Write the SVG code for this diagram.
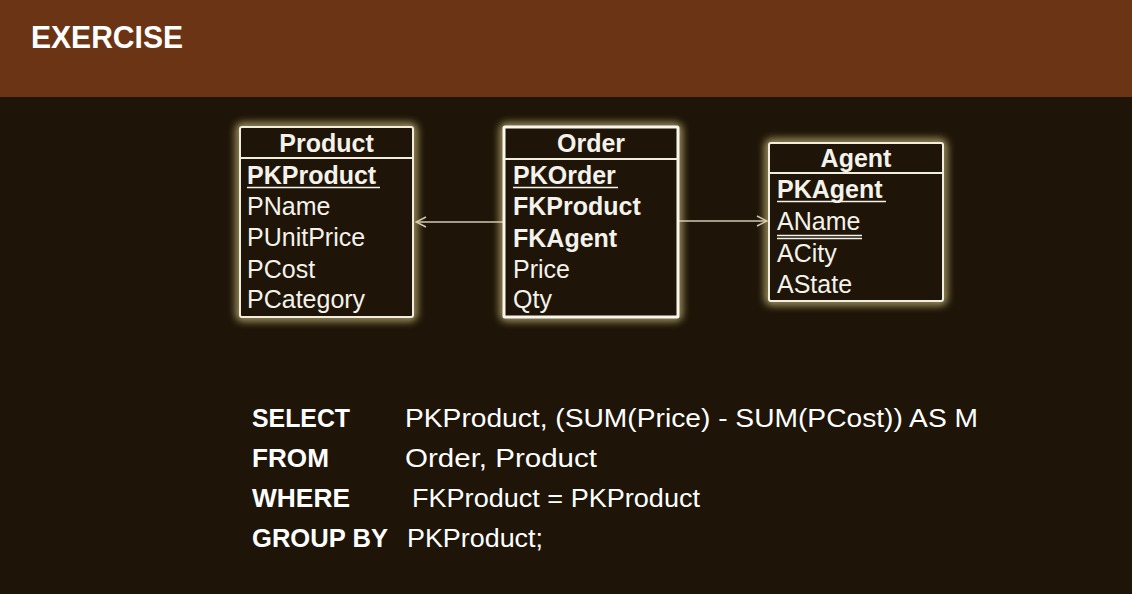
<svg xmlns="http://www.w3.org/2000/svg" width="1132" height="594" viewBox="0 0 1132 594">
<defs>
<filter id="blur" x="-20%" y="-20%" width="140%" height="140%">
<feGaussianBlur stdDeviation="4"/>
</filter>
<marker id="chev" viewBox="0 0 12 12" refX="11" refY="6" markerWidth="12" markerHeight="12" markerUnits="userSpaceOnUse" orient="auto">
<path d="M1,1 L11,6 L1,11" fill="none" stroke="#cfc8b4" stroke-width="1.5"/>
</marker>
<style>
.halo{fill:none;stroke:#e6d890;stroke-width:7;opacity:0.85;filter:url(#blur)}
.box{fill:#1e1407;stroke:#f2eedf;stroke-width:2}
.box2{fill:#1e1407;stroke:#f8f6ee;stroke-width:3}
.div{stroke:#f2eedf;stroke-width:2}
.t{font-family:"Liberation Sans",Arial,Helvetica,sans-serif;font-size:25px;fill:#f4f2ea}
.b{font-weight:bold}
.ttl{font-weight:bold;text-anchor:middle}
.ul{stroke:#f4f2ea;stroke-width:1.6}
.conn{stroke:#cfc8b4;stroke-width:1.5;fill:none;marker-end:url(#chev)}
.sql{font-family:"Liberation Sans",Arial,sans-serif;font-size:25px;fill:#ffffff}
</style>
</defs>
<rect x="0" y="0" width="1132" height="594" fill="#1e1407"/>
<rect x="0" y="0" width="1132" height="97" fill="#6b3515"/>
<text x="31" y="48" font-family="Liberation Sans, Arial, sans-serif" font-weight="bold" font-size="32" fill="#ffffff" textLength="152" lengthAdjust="spacingAndGlyphs">EXERCISE</text>

<g id="connectors">
<line class="conn" x1="504" y1="222" x2="416" y2="222"/>
<line class="conn" x1="678" y1="221" x2="767" y2="221"/>
</g>

<g id="product">
<rect class="halo" x="240" y="127" width="173" height="190" rx="2"/>
<rect class="box" x="240" y="127" width="173" height="190" rx="2"/>
<line class="div" x1="240" y1="158" x2="413" y2="158"/>
<text class="t ttl" x="326.5" y="152">Product</text>
<text class="t b" x="247" y="184">PKProduct</text>
<line class="ul" x1="247" y1="187.5" x2="380" y2="187.5"/>
<text class="t" x="247" y="215">PName</text>
<text class="t" x="247" y="246">PUnitPrice</text>
<text class="t" x="247" y="278">PCost</text>
<text class="t" x="247" y="308">PCategory</text>
</g>

<g id="order">
<rect class="halo" x="504" y="127" width="174" height="190" rx="2"/>
<rect class="box2" x="504" y="127" width="174" height="190" rx="1"/>
<line class="div" x1="504" y1="159" x2="678" y2="159" stroke-width="3"/>
<text class="t ttl" x="591" y="152">Order</text>
<text class="t b" x="513" y="184">PKOrder</text>
<line class="ul" x1="513" y1="187.5" x2="618" y2="187.5"/>
<text class="t b" x="513" y="215">FKProduct</text>
<text class="t b" x="513" y="247">FKAgent</text>
<text class="t" x="513" y="278">Price</text>
<text class="t" x="513" y="308">Qty</text>
</g>

<g id="agent">
<rect class="halo" x="769" y="143" width="174" height="158" rx="2"/>
<rect class="box" x="769" y="143" width="174" height="158" rx="2"/>
<line class="div" x1="769" y1="173" x2="943" y2="173"/>
<text class="t ttl" x="856" y="167">Agent</text>
<text class="t b" x="777" y="198">PKAgent</text>
<line class="ul" x1="777" y1="201.5" x2="886" y2="201.5"/>
<text class="t" x="777" y="230">AName</text>
<line class="ul" x1="777" y1="235.5" x2="862" y2="235.5"/>
<line class="ul" x1="777" y1="238.5" x2="862" y2="238.5"/>
<text class="t" x="777" y="262">ACity</text>
<text class="t" x="777" y="293">AState</text>
</g>

<g id="sql">
<text class="sql b" x="252" y="427" textLength="98" lengthAdjust="spacingAndGlyphs">SELECT</text>
<text class="sql" x="405" y="427" textLength="573" lengthAdjust="spacingAndGlyphs">PKProduct, (SUM(Price) - SUM(PCost)) AS M</text>
<text class="sql b" x="252" y="467" textLength="77" lengthAdjust="spacingAndGlyphs">FROM</text>
<text class="sql" x="405" y="467" textLength="192" lengthAdjust="spacingAndGlyphs">Order, Product</text>
<text class="sql b" x="252" y="507" textLength="98" lengthAdjust="spacingAndGlyphs">WHERE</text>
<text class="sql" x="412" y="507" textLength="288" lengthAdjust="spacingAndGlyphs">FKProduct = PKProduct</text>
<text class="sql b" x="252" y="547" textLength="136" lengthAdjust="spacingAndGlyphs">GROUP BY</text>
<text class="sql" x="407" y="547" textLength="136" lengthAdjust="spacingAndGlyphs">PKProduct;</text>
</g>
</svg>
